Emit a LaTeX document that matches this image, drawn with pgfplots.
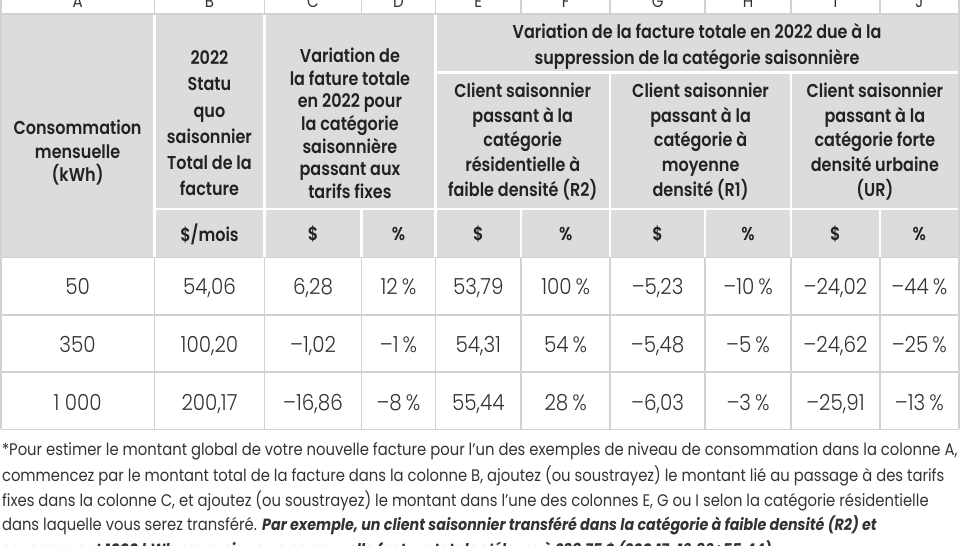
\documentclass[border=0pt]{standalone}
\usepackage{fontspec}
\setmainfont{Poppins}[FakeStretch=0.88]
\newfontfamily\hdfont{Poppins SemiBold}[FakeStretch=0.86]
\newfontfamily\bdfont{Poppins Light}[FakeStretch=0.9]
\usepackage{pgfplots}
\pgfplotsset{compat=1.18}
\definecolor{hdr}{HTML}{DCDCDE}
\definecolor{grid}{HTML}{D2D2D2}
\definecolor{ink}{HTML}{222222}
\definecolor{txt}{HTML}{333333}
\tikzset{
  hd/.style={font=\hdfont\fontsize{18.5}{22.5}\selectfont, text=ink, align=center, inner sep=0pt},
  let/.style={anchor=base, inner sep=0pt, text=txt, font=\fontsize{17}{17}\selectfont},
}
\pgfplotsset{
  cells/.style={draw=none, mark=none, nodes near coords, point meta=explicit symbolic,
    every node near coord/.append style={anchor=center, inner sep=0pt,
      text height=15.5bp, text depth=0bp,
      font=\bdfont\fontsize{22}{24}\selectfont, text=txt}},
}
\newcommand{\pc}{\hspace{0.18em}\%}
\begin{document}
\begin{tikzpicture}
\begin{axis}[width=960bp, height=540bp, scale only axis,
    xmin=0, xmax=960, ymin=0, ymax=540, y dir=reverse,
    axis lines=none, clip=true]
  % header block
  \fill[hdr] (axis cs:5,14) rectangle (axis cs:953,255);
  \draw[white, line width=2.5bp] (axis cs:157,14) -- (axis cs:157,255)
    (axis cs:266,14) -- (axis cs:266,255)
    (axis cs:435,14) -- (axis cs:435,255)
    (axis cs:608,72) -- (axis cs:608,255)
    (axis cs:787,72) -- (axis cs:787,255)
    (axis cs:362,207) -- (axis cs:362,255)
    (axis cs:520,207) -- (axis cs:520,255)
    (axis cs:702,207) -- (axis cs:702,255)
    (axis cs:875,207) -- (axis cs:875,255)
    (axis cs:435,72) -- (axis cs:953,72)
    (axis cs:157,207) -- (axis cs:953,207);
  % grid of body and letter row
  \pgfplotsinvokeforeach{157,266,362,435,520,608,702,787,875}{
    \draw[grid, line width=1.6bp] (axis cs:#1,0) -- (axis cs:#1,14) (axis cs:#1,255) -- (axis cs:#1,425);
  }
  \draw[grid, line width=1.6bp] (axis cs:5,0) -- (axis cs:5,425)
    (axis cs:953,0) -- (axis cs:953,425);
  \pgfplotsinvokeforeach{14,255,312,368,425}{
    \draw[grid, line width=1.6bp] (axis cs:5,#1) -- (axis cs:953,#1);
  }
  % column letters
  \node[let] at (axis cs:81,7) {A};
  \node[let] at (axis cs:211.5,7) {B};
  \node[let] at (axis cs:314,7) {C};
  \node[let] at (axis cs:398.5,7) {D};
  \node[let] at (axis cs:477.5,7) {E};
  \node[let] at (axis cs:564,7) {F};
  \node[let] at (axis cs:655,7) {G};
  \node[let] at (axis cs:744.5,7) {H};
  \node[let] at (axis cs:831,7) {I};
  \node[let] at (axis cs:914,7) {J};
  % header texts
  \node[hd, font=\hdfont\fontsize{18.5}{23.5}\selectfont] at (axis cs:81,151) {Consommation\\mensuelle\\(kWh)};
  \node[hd, font=\hdfont\fontsize{18.5}{26}\selectfont] at (axis cs:211.5,122) {2022\\Statu\\quo\\saisonnier\\Total de la\\facture};
  \node[hd] at (axis cs:350.5,122) {Variation de\\la fature totale\\en 2022 pour\\la catégorie\\saisonnière\\passant aux\\tarifs fixes};
  \node[hd, font=\hdfont\fontsize{18.5}{25}\selectfont] at (axis cs:694,46) {Variation de la facture totale en 2022 due à la\\suppression de la catégorie saisonnière};
  \node[hd, font=\hdfont\fontsize{18.5}{24.5}\selectfont] at (axis cs:521.5,140) {Client saisonnier\\passant à la\\catégorie\\résidentielle à\\faible densité (R2)};
  \node[hd, font=\hdfont\fontsize{18.5}{24.5}\selectfont] at (axis cs:697.5,140) {Client saisonnier\\passant à la\\catégorie à\\moyenne\\densité (R1)};
  \node[hd, font=\hdfont\fontsize{18.5}{24.5}\selectfont] at (axis cs:870,140) {Client saisonnier\\passant à la\\catégorie forte\\densité urbaine\\(UR)};
  \node[hd] at (axis cs:211.5,232) {\$/mois};
  \node[hd] at (axis cs:314,232) {\$};
  \node[hd] at (axis cs:398.5,232) {\%};
  \node[hd] at (axis cs:477.5,232) {\$};
  \node[hd] at (axis cs:564,232) {\%};
  \node[hd] at (axis cs:655,232) {\$};
  \node[hd] at (axis cs:744.5,232) {\%};
  \node[hd] at (axis cs:831,232) {\$};
  \node[hd] at (axis cs:914,232) {\%};
  % body values
  \addplot[cells] coordinates {(81,284) [50] (211.5,284) [54,06] (314,284) [6,28] (398.5,284) [12\pc]
    (477.5,284) [53,79] (564,284) [100\pc] (655,284) [–5,23] (744.5,284) [–10\pc]
    (831,284) [–24,02] (914,284) [–44\pc]};
  \addplot[cells] coordinates {(81,341) [350] (211.5,341) [100,20] (314,341) [–1,02] (398.5,341) [–1\pc]
    (477.5,341) [54,31] (564,341) [54\pc] (655,341) [–5,48] (744.5,341) [–5\pc]
    (831,341) [–24,62] (914,341) [–25\pc]};
  \addplot[cells] coordinates {(81,398) [1\hspace{0.25em}000] (211.5,398) [200,17] (314,398) [–16,86] (398.5,398) [–8\pc]
    (477.5,398) [55,44] (564,398) [28\pc] (655,398) [–6,03] (744.5,398) [–3\pc]
    (831,398) [–25,91] (914,398) [–13\pc]};
  % footnote
  \begin{scope}[every node/.style={anchor=base west, inner sep=0pt, text=txt, font=\fontsize{16.7}{18}\selectfont}]
    \node at (axis cs:6,451) {*Pour estimer le montant global de votre nouvelle facture pour l’un des exemples de niveau de consommation dans la colonne A,};
    \node at (axis cs:6,477) {commencez par le montant total de la facture dans la colonne B, ajoutez (ou soustrayez) le montant lié au passage à des tarifs};
    \node at (axis cs:6,501) {fixes dans la colonne C, et ajoutez (ou soustrayez) le montant dans l’une des colonnes E, G ou I selon la catégorie résidentielle};
    \node at (axis cs:6,525) {dans laquelle vous serez transféré. {\fontsize{16.1}{18}\selectfont\bfseries\itshape Par exemple, un client saisonnier transféré dans la catégorie à faible densité (R2) et}};
    \node at (axis cs:6,550) {\fontsize{16.1}{18}\selectfont\bfseries\itshape consommant 1000 kWh par mois verra sa nouvelle facture totale s’élever à 238,75 \$ (200,17-16,86+55,44).};
  \end{scope}
\end{axis}
\end{tikzpicture}
\end{document}
